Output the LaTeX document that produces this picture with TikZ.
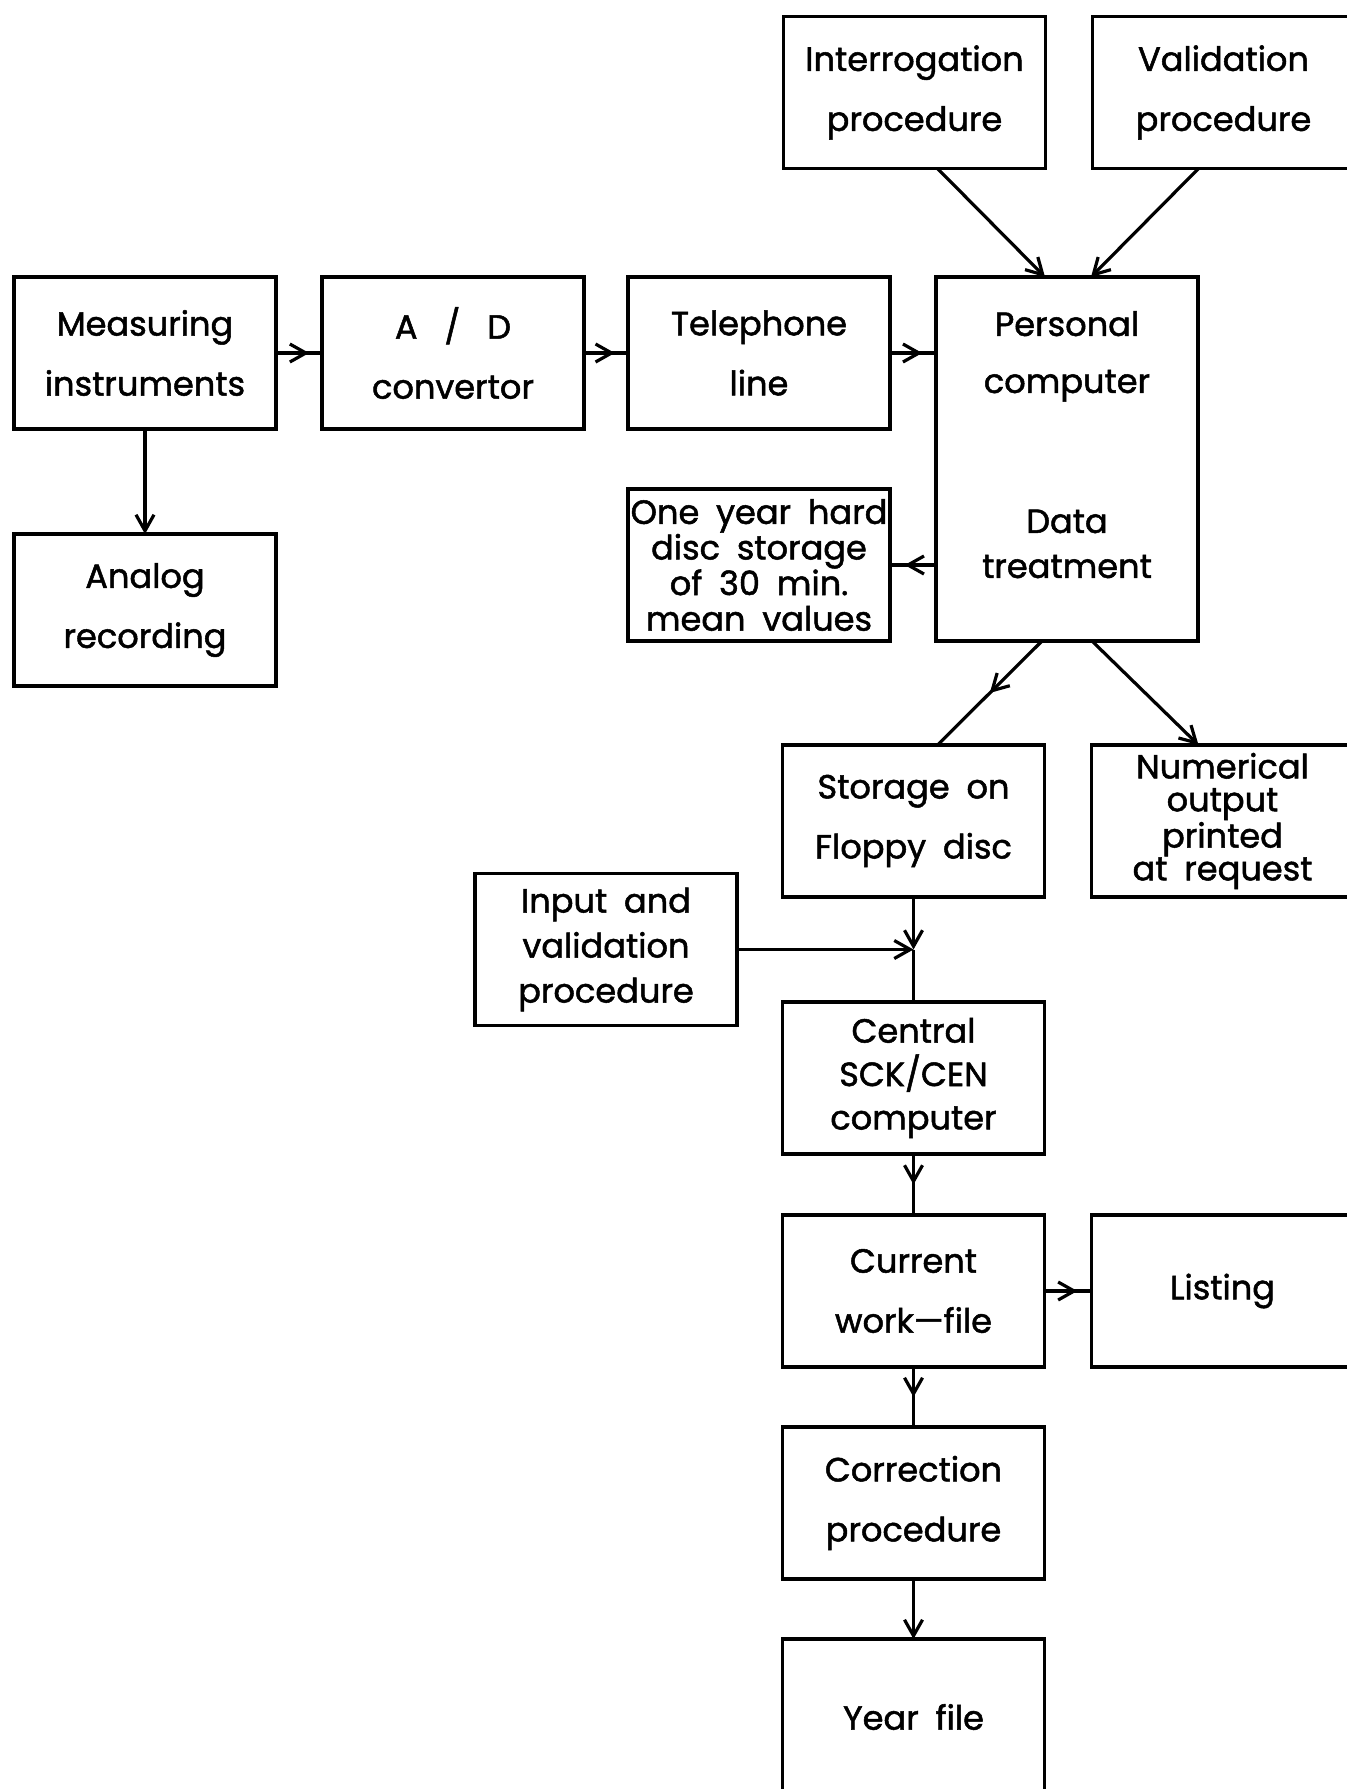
\documentclass[tikz,border=0pt]{standalone}
\usepackage{fontspec}
\setmainfont{Poppins}[FakeBold=1.5]
\usetikzlibrary{arrows.meta,positioning,calc,decorations.markings}

\begin{document}
\begin{tikzpicture}[
  x=0.5pt, y=-0.5pt,
  font=\fontsize{16.8}{30}\selectfont,
  node distance=23pt,
  box/.style={draw, line width=1.8pt, minimum width=131pt, minimum height=76pt,
              align=center, inner sep=1pt, outer sep=0pt},
  tight/.style={font=\fontsize{16.8}{#1}\selectfont},
  ln/.style={line width=1.6pt},
  ar/.style={ln, -{Straight Barb[length=8pt,width=9pt]}},
  midarr/.style={ln, postaction={decorate}, decoration={markings,
      mark=at position #1 with {\arrow{Straight Barb[length=8pt,width=9pt]}}}},
]
\useasboundingbox (0,0) rectangle (1346,1789);

% --- acquisition chain
\node[box] (meas) at (145,353) {Measuring\\instruments};
\node[box, right=23pt of meas] (ad) {A\hspace{0.8em}/\hspace{0.8em}D\\convertor};
\node[box, right=22pt of ad] (tel) {Telephone\\line};
\node[box, minimum height=182pt, tight=22.5pt,
      right=23pt of tel.north east, anchor=north west] (pc)
  {Personal\\[6pt]computer\\[47.5pt]Data\\treatment\\[-8pt]\mbox{}};
\node[box, tight=17.8pt, below=30pt of tel] (disc)
  {One\enspace year\enspace hard\\disc\enspace storage\\of\enspace 30\enspace min.\\mean\enspace values};
\node[box, below=52.5pt of meas] (analog) {Analog\\recording};

% --- procedures on top
\node[box] (interr) at (914.5,92.5) {Interrogation\\procedure};
\node[box, right=23.5pt of interr] (valid) {Validation\\procedure};

% --- output side
\node[box] (storage) at (913.5,821) {Storage\enspace on\\Floppy\enspace disc};
\node[box, tight=16.4pt, right=23.5pt of storage] (numer)
  {Numerical\\output\\printed\\at\enspace request};
\node[box, tight=22.5pt] (input) at (606,949.5) {Input\enspace and\\validation\\procedure};
\node[box, tight=21.7pt, below=52.5pt of storage] (central) {Central\\SCK/CEN\\computer};
\node[box, below=30.5pt of central] (current) {Current\\work—file};
\node[box, right=23.5pt of current] (listing) {Listing};
\node[box, below=30pt of current] (correct) {Correction\\procedure};
\node[box, minimum height=78pt, below=30pt of correct] (year) {Year\enspace file};

% --- connectors
\draw[midarr=0.72] (meas) -- (ad);
\draw[midarr=0.7] (ad) -- (tel);
\draw[midarr=0.7] (tel) -- (tel.east -| pc.west);
\draw[midarr=0.68] (pc.west |- disc.east) -- (disc);
\draw[ar] (meas) -- (analog);

\draw[ar] ($(interr.south)+(23,0)$) -- ($(pc.north)+(-22,0)$);
\draw[ar] ($(valid.south)+(-25,0)$) -- ($(pc.north)+(24,0)$);
\draw[midarr=0.5] ($(pc.south)+(-25,0)$) -- ($(storage.north)+(24,0)$);
\draw[ar] ($(pc.south)+(25,0)$) -- ($(numer.north)+(-24,0)$);

\coordinate (jn) at (storage.south |- input.east);
\draw[ar] (storage) -- (jn);
\draw[ln] (jn) -- (central);
\draw[ar] (input) -- (jn);

\draw[midarr=0.5] (central) -- (current);
\draw[midarr=0.7] (current) -- (listing);
\draw[midarr=0.5] (current) -- (correct);
\draw[ar] (correct) -- (year);

\end{tikzpicture}
\end{document}
